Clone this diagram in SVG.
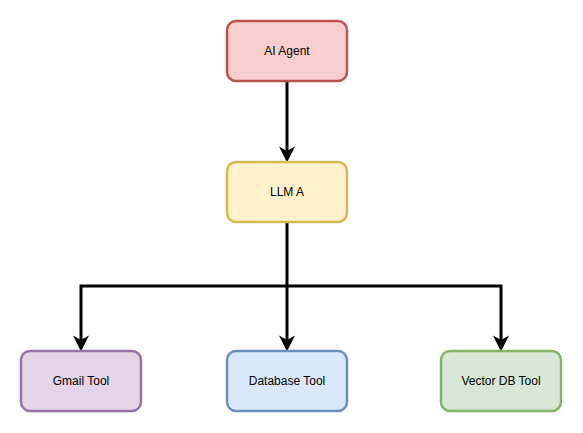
<svg xmlns="http://www.w3.org/2000/svg" width="583" height="433" viewBox="0 0 583 433">
<style>
.box{stroke-width:2.5}
.lbl{font-family:"Liberation Sans",Arial,sans-serif;font-size:12px;fill:#000;text-anchor:middle;dominant-baseline:central}
.edge{fill:none;stroke:#000;stroke-width:3}
</style>
<defs>
<marker id="arr" markerUnits="userSpaceOnUse" markerWidth="16" markerHeight="16" viewBox="0 0 14 14" refX="4" refY="7" orient="auto">
<path d="M0,0 L14,7 L0,14 L4,7 Z" fill="#000"/>
</marker>
</defs>
<rect width="583" height="433" fill="#fff"/>
<g id="connectors">
<path class="edge" d="M287,82 L287,151" marker-end="url(#arr)"/>
<path class="edge" d="M287,222 L287,286 L81,286 L81,340" marker-end="url(#arr)"/>
<path class="edge" d="M287,286 L287,340" marker-end="url(#arr)"/>
<path class="edge" d="M287,286 L501,286 L501,340" marker-end="url(#arr)"/>
</g>
<g id="ai-agent">
<rect class="box" x="227" y="21" width="120" height="60" rx="9" fill="#f8cecc" stroke="#b85450"/>
<text class="lbl" x="287" y="51">AI Agent</text>
</g>
<g id="llm-a">
<rect class="box" x="227" y="162" width="120" height="60" rx="9" fill="#fff2cc" stroke="#d6b656"/>
<text class="lbl" x="287" y="192">LLM A</text>
</g>
<g id="gmail-tool">
<rect class="box" x="21" y="351" width="120" height="60" rx="9" fill="#e1d5e7" stroke="#9673a6"/>
<text class="lbl" x="81" y="381">Gmail Tool</text>
</g>
<g id="database-tool">
<rect class="box" x="227" y="351" width="120" height="60" rx="9" fill="#dae8fc" stroke="#6c8ebf"/>
<text class="lbl" x="287" y="381">Database Tool</text>
</g>
<g id="vector-db-tool">
<rect class="box" x="441" y="351" width="120" height="60" rx="9" fill="#d5e8d4" stroke="#82b366"/>
<text class="lbl" x="501" y="381">Vector DB Tool</text>
</g>
</svg>
